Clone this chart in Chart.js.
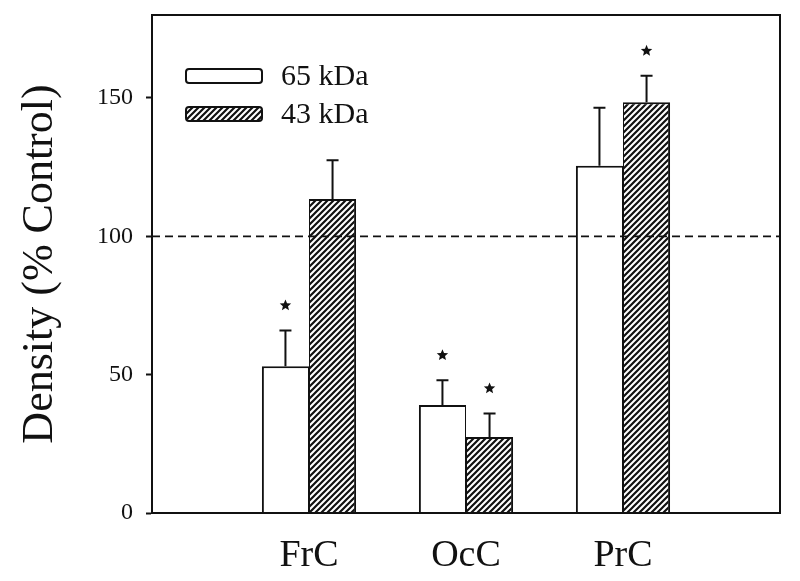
<!DOCTYPE html>
<html><head><meta charset="utf-8">
<script src="https://cdn.jsdelivr.net/npm/chart.js@4"></script>
<style>html,body{margin:0;padding:0;background:#fff}</style>
</head><body>
<canvas id="c" width="800" height="581"></canvas>
<script>
const categories = ['FrC', 'OcC', 'PrC'];
const seriesNames = ['65 kDa', '43 kDa'];
const values65 = [53, 39, 125.5];
const values43 = [113.5, 27.5, 148.5];
const errors65 = [13, 9, 21];
const errors43 = [14, 8.5, 9.5];
const signif65 = [true, true, false];
const signif43 = [false, true, true];
const yTicks = [0, 50, 100, 150];
const yMin = 0, yMax = 180;
const referenceValue = 100;
const yTitle = 'Density (% Control)';

const SERIF = "'Liberation Serif', 'Times New Roman', serif";

function makeHatch() {
  const s = 6;
  const c = document.createElement('canvas');
  c.width = s; c.height = s;
  const g = c.getContext('2d');
  g.fillStyle = '#fff'; g.fillRect(0, 0, s, s);
  g.strokeStyle = '#111'; g.lineWidth = 2.2;
  g.beginPath();
  g.moveTo(-1, s + 1); g.lineTo(s + 1, -1);
  g.moveTo(-1, 1); g.lineTo(1, -1);
  g.moveTo(s - 1, s + 1); g.lineTo(s + 1, s - 1);
  g.stroke();
  return c;
}
const ctx0 = document.getElementById('c').getContext('2d');
const hatch = ctx0.createPattern(makeHatch(), 'repeat');

const labels = ['', ...categories, ''];
const pad = arr => [null, ...arr, null];
const errs = [errors65, errors43];
const sigs = [signif65, signif43];

function star(ctx, cx, cy, R) {
  const r = R * 0.45;
  ctx.beginPath();
  for (let i = 0; i < 10; i++) {
    const a = -Math.PI / 2 + i * Math.PI / 5;
    const rr = i % 2 ? r : R;
    const px = cx + rr * Math.cos(a), py = cy + rr * Math.sin(a);
    i ? ctx.lineTo(px, py) : ctx.moveTo(px, py);
  }
  ctx.closePath();
  ctx.fill();
}

const overlay = {
  id: 'overlay',
  afterDatasetsDraw(chart) {
    const { ctx, chartArea: a, scales: { y } } = chart;
    ctx.save();
    ctx.strokeStyle = '#111'; ctx.fillStyle = '#111';
    errs.forEach((err, di) => {
      const meta = chart.getDatasetMeta(di);
      const data = chart.data.datasets[di].data;
      categories.forEach((c, i) => {
        const el = meta.data[i + 1];
        const v = data[i + 1];
        const yTop = y.getPixelForValue(v + err[i]);
        ctx.lineWidth = 2;
        ctx.beginPath();
        ctx.moveTo(el.x, el.y); ctx.lineTo(el.x, yTop);
        ctx.moveTo(el.x - 6, yTop); ctx.lineTo(el.x + 6, yTop);
        ctx.stroke();
        if (sigs[di][i]) star(ctx, el.x, yTop - 25, 6);
      });
    });
    const yr = y.getPixelForValue(referenceValue);
    ctx.lineWidth = 1.8;
    ctx.setLineDash([8, 5]);
    ctx.beginPath(); ctx.moveTo(a.left, yr); ctx.lineTo(a.right, yr); ctx.stroke();
    ctx.setLineDash([]);
    ctx.lineWidth = 2;
    ctx.strokeRect(a.left, a.top, a.right - a.left, a.bottom - a.top);
    const lx = a.left + 34, ly = a.top + 54;
    const fills = ['#fff', hatch];
    ctx.font = '30px ' + SERIF;
    ctx.textBaseline = 'middle';
    ctx.textAlign = 'left';
    seriesNames.forEach((name, i) => {
      const by = ly + i * 38;
      ctx.beginPath();
      if (ctx.roundRect) ctx.roundRect(lx, by, 76, 14, 3); else ctx.rect(lx, by, 76, 14);
      ctx.fillStyle = fills[i]; ctx.fill();
      ctx.lineWidth = 2; ctx.strokeStyle = '#111'; ctx.stroke();
      ctx.fillStyle = '#111';
      ctx.fillText(name, lx + 95, by + 8);
    });
    ctx.restore();
  }
};

new Chart(ctx0, {
  type: 'bar',
  data: {
    labels,
    datasets: [
      { label: seriesNames[0], data: pad(values65), backgroundColor: '#fff', borderColor: '#111',
        borderWidth: { top: 2, left: 2, right: 1, bottom: 0 }, borderSkipped: false },
      { label: seriesNames[1], data: pad(values43), backgroundColor: hatch, borderColor: '#111',
        borderWidth: { top: 2, left: 1, right: 2, bottom: 0 }, borderSkipped: false }
    ]
  },
  options: {
    responsive: false,
    animation: false,
    events: [],
    layout: { padding: { top: 15, right: 20, left: 0, bottom: 0 } },
    datasets: { bar: { categoryPercentage: 0.6, barPercentage: 1 } },
    plugins: { legend: { display: false }, tooltip: { enabled: false } },
    scales: {
      x: {
        type: 'category',
        offset: false,
        grid: { display: false, drawTicks: false },
        border: { display: true, color: '#111', width: 2 },
        ticks: { color: '#111', font: { family: SERIF, size: 38 }, padding: 20, maxRotation: 0, autoSkip: false },
        afterFit: s => { s.height = 68; s.paddingLeft = 0; s.paddingRight = 0; }
      },
      y: {
        min: yMin, max: yMax,
        afterBuildTicks: s => { s.ticks = yTicks.map(v => ({ value: v })); },
        grid: { drawOnChartArea: false, drawTicks: true, tickLength: 6, color: '#111', tickWidth: 2 },
        border: { display: true, color: '#111', width: 2 },
        ticks: { color: '#111', font: { family: SERIF, size: 24 }, padding: 13 },
        title: { display: true, text: yTitle, color: '#111', font: { family: SERIF, size: 44, lineHeight: 1.2 }, padding: { top: 14, bottom: 0 } },
        afterFit: s => { s.width = 152; s.paddingTop = 0; s.paddingBottom = 0; }
      }
    }
  },
  plugins: [overlay]
});
</script>
</body></html>
